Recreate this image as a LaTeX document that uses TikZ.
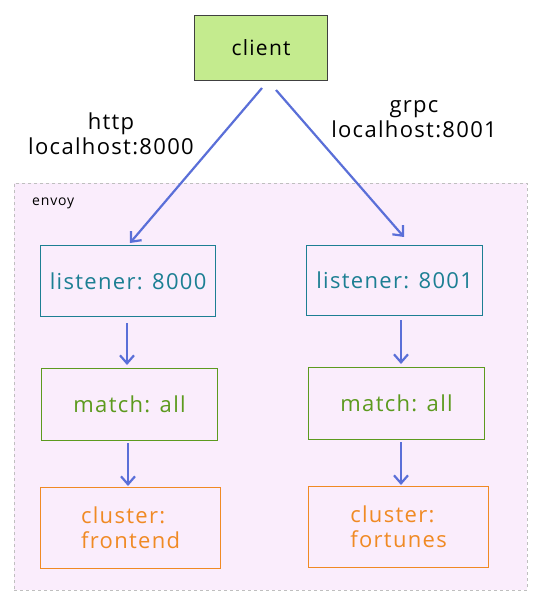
\documentclass[tikz,border=0pt]{standalone}
\usepackage{fontspec}
\setmainfont[LetterSpace=6]{Open Sans}
\usetikzlibrary{arrows.meta,calc}
\definecolor{teal}{HTML}{1C7F93}
\definecolor{grn}{HTML}{5C9A1E}
\definecolor{org}{HTML}{F08A24}
\definecolor{arr}{HTML}{5A6FD8}
\definecolor{clientfill}{HTML}{C4EB8E}
\definecolor{envoyfill}{HTML}{FAEDFC}
\tikzset{
  box/.style={draw, line width=1.2pt, inner sep=0pt, anchor=north west},
  lbl/.style={font=\fontsize{22}{25}\selectfont, align=center},
  flow/.style={draw=arr, line width=2.2pt, -{Straight Barb[length=8pt,width=14pt,line width=2.2pt]}}
}
\begin{document}
\begin{tikzpicture}[x=1pt,y=-1pt]
\useasboundingbox (0,0) rectangle (547,609);
\fill[white] (0,0) rectangle (547,609);
% envoy group
\node[box, draw=gray!50, dashed, line width=0.8pt, fill=envoyfill, minimum width=513pt, minimum height=407pt] (envoy) at (14,183) {};
\node[font=\fontsize{14}{16}\selectfont, anchor=west, inner sep=0pt] (envoylbl) at (32,203) {envoy};
% client
\node[box, draw=black!75, fill=clientfill, minimum width=133pt, minimum height=65pt, font=\fontsize{21}{24}\selectfont] (client) at (194,15) {client};
% listeners
\node[box, draw=teal, text=teal, minimum width=175pt, minimum height=71pt, lbl] (l1) at (40,245) {listener: 8000};
\node[box, draw=teal, text=teal, minimum width=176pt, minimum height=70pt, lbl] (l2) at (306,245) {listener: 8001};
% matches
\node[box, draw=grn, text=grn, minimum width=176pt, minimum height=72pt, lbl] (m1) at (41,368) {match: all};
\node[box, draw=grn, text=grn, minimum width=176pt, minimum height=72pt, lbl] (m2) at (308,367) {match: all};
% clusters
\node[box, draw=org, text=org, minimum width=180pt, minimum height=81pt, lbl, align=left] (c1) at (40,487) {cluster:\\frontend};
\node[box, draw=org, text=org, minimum width=180pt, minimum height=81pt, lbl, align=left] (c2) at (308,486) {cluster:\\fortunes};
% labels
\node[lbl, text=black] (httplbl) at (111,134) {http\\localhost:8000};
\node[lbl, text=black] (grpclbl) at (414,119) {grpc\\localhost:8001};
% arrows
\coordinate (cs1) at (262,88);
\coordinate (cs2) at (276,90);
\coordinate (le1) at (130,243);
\coordinate (le2) at (404,237);
\draw[flow] (cs1) -- (le1);
\draw[flow] (cs2) -- (le2);
\coordinate (a1s) at (127,323); \coordinate (a1e) at (127,365);
\coordinate (a2s) at (128,443); \coordinate (a2e) at (128,486);
\coordinate (b1s) at (401,320); \coordinate (b1e) at (401,364);
\coordinate (b2s) at (401,442); \coordinate (b2e) at (401,485);
\draw[flow] (a1s) -- (a1e);
\draw[flow] (a2s) -- (a2e);
\draw[flow] (b1s) -- (b1e);
\draw[flow] (b2s) -- (b2e);
\end{tikzpicture}
\end{document}
